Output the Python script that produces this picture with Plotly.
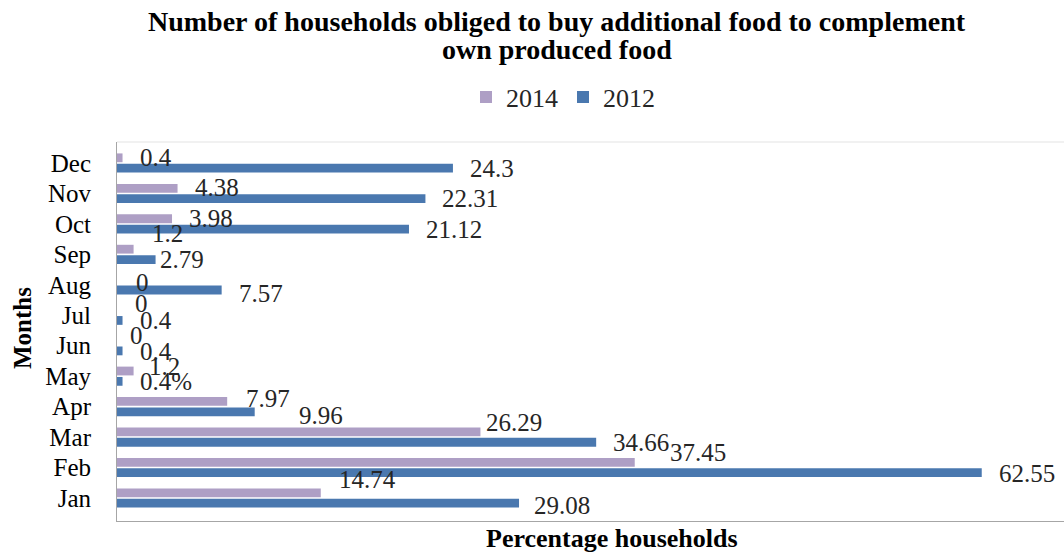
import plotly.graph_objects as go

# Months, bottom to top
months = ["Jan", "Feb", "Mar", "Apr", "May", "Jun",
          "Jul", "Aug", "Sep", "Oct", "Nov", "Dec"]

# Percentage of households buying extra food, by year
pct_2014 = [14.74, 37.45, 26.29, 7.97, 1.2, 0, 0, 0, 1.2, 3.98, 4.38, 0.4]
pct_2012 = [29.08, 62.55, 34.66, 9.96, 0.4, 0.4, 0.4, 7.57, 2.79, 21.12, 22.31, 24.3]

# Label suffixes (one label in the source carries a percent sign)
suffix_2012 = {"May": "%"}

title_lines = ["Number of households obliged to buy additional food to complement",
               "own produced food"]

SERIF = "Liberation Serif, Times New Roman, serif"
COL_2014 = "#AE9FC5"
COL_2012 = "#4A78AF"

# Plot-area geometry in pixels (used to place text in paper units)
W, H = 1064, 553
M_L, M_R, M_T, M_B = 117, 0, 142, 32
PW, PH = W - M_L - M_R, H - M_T - M_B


def px_x(x):
    return (x - M_L) / PW


def px_y(y):
    return (H - M_B - y) / PH


# Per-label pixel nudges (dx, dy), dy positive = up
LABEL_NUDGE = {
    ("2014", "Sep"): (1, 15),
    ("2012", "Sep"): (-13, 0),
    ("2014", "Mar"): (-11, 9),
    ("2012", "Apr"): (27, -3),
    ("2014", "Apr"): (2, 3),
    ("2014", "Feb"): (18, 10),
    ("2014", "Jan"): (1, 13),
    ("2012", "Jan"): (-2, -2),
    ("2014", "May"): (-2, 4),
    ("2014", "Jun"): (-4, 5),
    ("2014", "Jul"): (1, 6),
    ("2014", "Aug"): (2, -3),
    ("2012", "Aug"): (0, -3),
}

fig = go.Figure()

# 2012 first so that it sits below 2014 inside each month group
fig.add_trace(go.Bar(
    y=months, x=pct_2012, name="2012", orientation="h",
    marker=dict(color=COL_2012, line=dict(width=0)),
))
fig.add_trace(go.Bar(
    y=months, x=pct_2014, name="2014", orientation="h",
    marker=dict(color=COL_2014, line=dict(width=0)),
))

# Value labels at the end of each bar
annotations = []
for series, values, shift in (("2014", pct_2014, 5.5), ("2012", pct_2012, -5.5)):
    for m, v in zip(months, values):
        txt = f"{v:g}"
        if series == "2012":
            txt += suffix_2012.get(m, "")
        dx, dy = LABEL_NUDGE.get((series, m), (0, 0))
        annotations.append(dict(
            x=v, y=m, xref="x", yref="y", text=txt, showarrow=False,
            xanchor="left", yanchor="middle",
            xshift=15 + dx, yshift=shift + dy,
            font=dict(family=SERIF, size=25, color="#262626"),
        ))

# Two-line bold title
for line, yc in zip(title_lines, (22, 50)):
    annotations.append(dict(
        text=f"<b>{line}</b>", xref="paper", yref="paper",
        x=px_x(557), y=px_y(yc), showarrow=False,
        xanchor="center", yanchor="middle",
        font=dict(family=SERIF, size=28, color="black"),
    ))

# Axis titles
annotations.append(dict(
    text="<b>Months</b>", xref="paper", yref="paper",
    x=px_x(22), y=px_y(328), textangle=-90, showarrow=False,
    xanchor="center", yanchor="middle",
    font=dict(family=SERIF, size=25, color="black"),
))
annotations.append(dict(
    text="<b>Percentage households</b>", xref="paper", yref="paper",
    x=px_x(612), y=px_y(538), showarrow=False,
    xanchor="center", yanchor="middle",
    font=dict(family=SERIF, size=26, color="black"),
))

fig.update_layout(
    width=W, height=H,
    margin=dict(l=M_L, r=M_R, t=M_T, b=M_B, autoexpand=False),
    paper_bgcolor="white", plot_bgcolor="white",
    barmode="group", bargap=0.32, bargroupgap=0.15,
    legend=dict(
        orientation="h", traceorder="reversed",
        x=px_x(563), xanchor="center", y=px_y(97), yanchor="middle",
        font=dict(family=SERIF, size=26, color="#262626"),
        itemwidth=30,
    ),
    xaxis=dict(
        range=[0, 68.5], showticklabels=False, showgrid=False,
        zeroline=False, showline=True, linecolor="#A6A6A6", linewidth=1,
        ticks="",
    ),
    yaxis=dict(
        categoryorder="array", categoryarray=months,
        tickmode="array", tickvals=months, ticktext=months,
        showgrid=False, zeroline=False, showline=True,
        linecolor="#A6A6A6", linewidth=1,
        ticks="outside", ticklen=20, tickcolor="rgba(0,0,0,0)",
        tickfont=dict(family=SERIF, size=25, color="black"),
    ),
    shapes=[dict(
        type="line", xref="paper", yref="paper", x0=0, x1=1, y0=1, y1=1,
        line=dict(color="#E3E3E3", width=1),
    )],
    annotations=annotations,
    showlegend=True,
)

fig.write_html("out.html")
